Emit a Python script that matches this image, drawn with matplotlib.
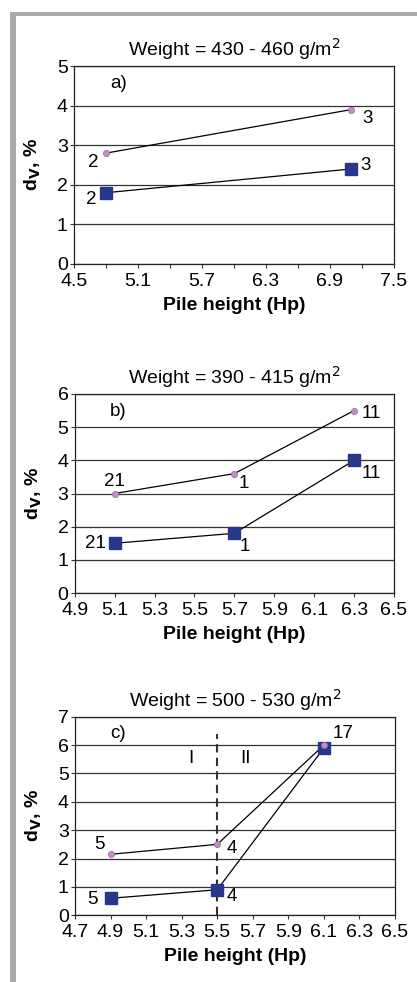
import matplotlib
matplotlib.use("Agg")
import matplotlib.pyplot as plt
from matplotlib.patches import Rectangle
import numpy as np

plt.rcParams['font.family'] = ['Liberation Sans', 'DejaVu Sans']

# panel a
a_x_pink = [4.8, 7.1]
a_y_pink = [2.8, 3.9]
a_x_blue = [4.8, 7.1]
a_y_blue = [1.8, 2.4]
a_lab_pink = ["2", "3"]
a_lab_blue = ["2", "3"]

# panel b
b_x_pink = [5.1, 5.7, 6.3]
b_y_pink = [3.0, 3.6, 5.5]
b_x_blue = [5.1, 5.7, 6.3]
b_y_blue = [1.5, 1.8, 4.0]
b_lab_pink = ["21", "1", "11"]
b_lab_blue = ["21", "1", "11"]

# panel c
c_x_pink = [4.9, 5.5, 6.1]
c_y_pink = [2.15, 2.5, 6.0]
c_x_blue = [4.9, 5.5, 6.1]
c_y_blue = [0.6, 0.9, 5.9]
c_lab_pink = ["5", "4", "17"]
c_lab_blue = ["5", "4", ""]

titles = ["Weight = 430 - 460 g/m$^2$", "Weight = 390 - 415 g/m$^2$",
          "Weight = 500 - 530 g/m$^2$"]

PINK = "#c58ac8"
BLUE = "#27388c"

fig = plt.figure(figsize=(4.17, 9.82), dpi=100)

# grey frame at left and top
fig.add_artist(Rectangle((10 / 417, 0), 6 / 417, 1 - 12 / 982,
                         transform=fig.transFigure, color="#a9abae", lw=0))
fig.add_artist(Rectangle((10 / 417, 1 - 16 / 982), 1, 4 / 982,
                         transform=fig.transFigure, color="#a9abae", lw=0))


def panel(rect, title, xlim, xmajor, xminor, ymax, xp, yp, xb, yb,
          labp, labb, offp, offb, tag, tagpos):
    ax = fig.add_axes(rect)
    ax.set_xlim(*xlim)
    ax.set_ylim(0, ymax)
    ax.set_xticks(xmajor)
    ax.set_xticks(xminor, minor=True)
    ax.set_xticklabels(["%.1f" % v for v in xmajor])
    ax.set_yticks(range(0, ymax + 1))
    ax.yaxis.grid(True, color="#333333", lw=0.9)
    ax.set_axisbelow(True)
    for s in ax.spines.values():
        s.set_color("#222222")
        s.set_linewidth(0.9)
    ax.tick_params(axis="both", labelsize=14, length=3, width=0.8,
                   color="#333333", pad=1.5)
    ax.tick_params(axis="x", pad=3.5)
    ax.tick_params(axis="x", which="minor", length=3, width=0.8,
                   color="#333333")
    ax.set_title(title, fontsize=14, pad=7)
    ax.set_xlabel("Pile height (Hp)", fontsize=14, fontweight="bold",
                  labelpad=5)
    ax.set_ylabel("d$_\\mathbf{V}$, %", fontsize=14, fontweight="bold",
                  labelpad=10)
    ax.plot(xp, yp, color="black", lw=0.9, zorder=3)
    ax.plot(xb, yb, color="black", lw=0.9, zorder=3)
    ax.plot(xb, yb, ls="none", marker="s", ms=8, mfc=BLUE, mec=BLUE,
            zorder=4)
    ax.plot(xp, yp, ls="none", marker="o", ms=4.5, mfc=PINK, mec="#9a6a9a",
            mew=0.5, zorder=5)
    for x, y, t, o in zip(xp, yp, labp, offp):
        ax.annotate(t, (x, y), xytext=o, textcoords="offset pixels",
                    ha="center", va="center", fontsize=13.5)
    for x, y, t, o in zip(xb, yb, labb, offb):
        ax.annotate(t, (x, y), xytext=o, textcoords="offset pixels",
                    ha="center", va="center", fontsize=13.5)
    ax.text(tagpos[0], tagpos[1], tag, fontsize=13.5, ha="center",
            va="center")
    return ax


H = 982.0
W = 417.0

panel([74 / W, 1 - 264 / H, 320 / W, 198 / H], titles[0], (4.5, 7.5),
      np.arange(4.5, 7.51, 0.6), np.arange(4.8, 7.3, 0.6), 5,
      a_x_pink, a_y_pink, a_x_blue, a_y_blue, a_lab_pink, a_lab_blue,
      [(-13, -9), (16, -9)], [(-15, -7), (14, 3)], "a)", (4.92, 4.55))

panel([74.7 / W, 1 - 593 / H, 319.3 / W, 199 / H], titles[1], (4.9, 6.5),
      np.arange(4.9, 6.51, 0.2), [], 6,
      b_x_pink, b_y_pink, b_x_blue, b_y_blue, b_lab_pink, b_lab_blue,
      [(0, 12), (9, -10), (17, -3)], [(-19, 0), (10, -13), (17, -13)],
      "b)", (5.12, 5.48))

axc = panel([75 / W, 1 - 915.3 / H, 320 / W, 198.6 / H], titles[2],
            (4.7, 6.5), np.arange(4.7, 6.51, 0.2), [], 7,
            c_x_pink, c_y_pink, c_x_blue, c_y_blue, c_lab_pink, c_lab_blue,
            [(-11, 10), (15, -4), (19, 12)], [(-18, -1), (15, -7), (0, 0)],
            "c)", (4.94, 6.41))
axc.plot([5.5, 5.5], [0, 6.4], color="#333333", lw=1.5, ls=(0, (4, 2.5)),
         zorder=2)
axc.text(5.35, 5.51, "I", fontsize=13.5, ha="center", va="center")
axc.text(5.66, 5.51, "II", fontsize=13.5, ha="center", va="center")

fig.savefig("out.png", dpi=100)
